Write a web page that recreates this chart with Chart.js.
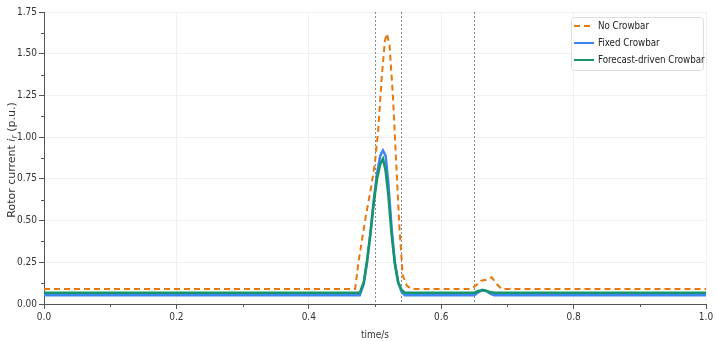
<!DOCTYPE html>
<html lang="en">
<head>
  <meta charset="UTF-8" />
  <title>Rotor current</title>
  <script src="https://cdn.jsdelivr.net/npm/chart.js"></script>
  <style>
    html, body { margin: 0; padding: 0; background: #fff; }
    #wrap { width: 716px; height: 341px; }
  </style>
</head>
<body>
  <div id="wrap"><canvas id="rotorChart"></canvas></div>

  <script>
    // series labels
    const seriesNames = ["No Crowbar", "Fixed Crowbar", "Forecast-driven Crowbar"];

    // No Crowbar (dashed)
    const timeNo = [0, 0.470, 0.475, 0.485, 0.495, 0.500, 0.505, 0.510, 0.515, 0.518, 0.522, 0.527, 0.532, 0.537, 0.542, 0.548, 0.555,
                    0.645, 0.652, 0.660, 0.668, 0.676, 0.684, 0.691, 1.0];
    const valNo = [0.09, 0.09, 0.25, 0.50, 0.72, 0.85, 1.05, 1.35, 1.58, 1.62, 1.55, 1.25, 0.85, 0.45, 0.17, 0.11, 0.09,
                   0.09, 0.11, 0.14, 0.145, 0.16, 0.12, 0.09, 0.09];

    // Fixed Crowbar
    const timeFixed = [0, 0.477, 0.483, 0.488, 0.493, 0.498, 0.503, 0.508, 0.512, 0.516, 0.520, 0.525, 0.530, 0.535, 0.540, 0.545,
                       0.650, 0.656, 0.662, 0.668, 0.674, 0.680, 1.0];
    const valFixed = [0.052, 0.052, 0.12, 0.25, 0.42, 0.62, 0.78, 0.89, 0.92, 0.89, 0.73, 0.46, 0.25, 0.13, 0.075, 0.052,
                      0.052, 0.07, 0.085, 0.08, 0.062, 0.052, 0.052];

    // Forecast-driven Crowbar
    const timeForecast = [0, 0.477, 0.483, 0.488, 0.493, 0.498, 0.503, 0.508, 0.512, 0.516, 0.520, 0.525, 0.530, 0.535, 0.540, 0.545,
                          0.650, 0.656, 0.662, 0.668, 0.674, 0.680, 1.0];
    const valForecast = [0.068, 0.068, 0.13, 0.26, 0.42, 0.60, 0.75, 0.84, 0.87, 0.80, 0.66, 0.42, 0.24, 0.13, 0.085, 0.068,
                         0.068, 0.078, 0.082, 0.078, 0.072, 0.068, 0.068];

    // event markers (vertical dotted lines)
    const eventTimes = [0.5, 0.54, 0.65];

    const FONT = "DejaVu Sans Condensed";
    const toPoints = (xs, ys) => xs.map((x, i) => ({ x: x, y: ys[i] }));

    // minor ticks, event lines, y title, legend
    const extras = {
      id: "extras",
      beforeDatasetsDraw(chart) {
        const { ctx, chartArea, scales } = chart;
        ctx.save();
        ctx.strokeStyle = "#888";
        ctx.lineWidth = 1;
        ctx.setLineDash([2, 2]);
        eventTimes.forEach(t => {
          const px = Math.round(scales.x.getPixelForValue(t)) + 0.5;
          ctx.beginPath();
          ctx.moveTo(px, chartArea.top);
          ctx.lineTo(px, chartArea.bottom);
          ctx.stroke();
        });
        ctx.restore();
      },
      afterDraw(chart) {
        const { ctx, chartArea, scales } = chart;
        ctx.save();
        ctx.strokeStyle = "#555";
        ctx.lineWidth = 1;
        for (let v = 0.1; v < 1; v += 0.2) {
          const px = Math.round(scales.x.getPixelForValue(v)) + 0.5;
          ctx.beginPath();
          ctx.moveTo(px, chartArea.bottom);
          ctx.lineTo(px, chartArea.bottom + 3);
          ctx.stroke();
        }
        for (let v = 0.125; v < 1.75; v += 0.25) {
          const py = Math.round(scales.y.getPixelForValue(v)) + 0.5;
          ctx.beginPath();
          ctx.moveTo(chartArea.left, py);
          ctx.lineTo(chartArea.left - 3, py);
          ctx.stroke();
        }

        // y axis title with italic i and subscript r
        const parts = [
          { t: "Rotor current ", f: "11px 'DejaVu Sans'", dy: 0 },
          { t: "i", f: "italic 11px 'DejaVu Sans'", dy: 0 },
          { t: "r", f: "italic 8px 'DejaVu Sans'", dy: 2.5 },
          { t: " (p.u.)", f: "11px 'DejaVu Sans'", dy: 0 }
        ];
        let total = 0;
        parts.forEach(p => { ctx.font = p.f; p.w = ctx.measureText(p.t).width; total += p.w; });
        ctx.translate(12, (chartArea.top + chartArea.bottom) / 2 + 2);
        ctx.rotate(-Math.PI / 2);
        ctx.fillStyle = "#333";
        ctx.textBaseline = "middle";
        let xx = -total / 2;
        parts.forEach(p => {
          ctx.font = p.f;
          ctx.fillText(p.t, xx, p.dy);
          xx += p.w;
        });
        ctx.setTransform(1, 0, 0, 1, 0, 0);

        // legend box
        const x0 = 571, y0 = 17, w = 132, h = 53;
        ctx.fillStyle = "rgba(255,255,255,0.9)";
        ctx.strokeStyle = "#ddd";
        ctx.lineWidth = 1;
        ctx.beginPath();
        ctx.roundRect(x0 + 0.5, y0 + 0.5, w, h, 3);
        ctx.fill();
        ctx.stroke();
        ctx.font = "9.7px '" + FONT + "'";
        ctx.textBaseline = "middle";
        chart.data.datasets.forEach((ds, i) => {
          const yy = y0 + 9 + i * 17;
          ctx.strokeStyle = ds.borderColor;
          ctx.lineWidth = 2;
          ctx.setLineDash(ds.borderDash || []);
          ctx.beginPath();
          ctx.moveTo(x0 + 3, yy);
          ctx.lineTo(x0 + 23, yy);
          ctx.stroke();
          ctx.setLineDash([]);
          ctx.fillStyle = "#222";
          ctx.fillText(ds.label, x0 + 27, yy);
        });
        ctx.restore();
      }
    };

    new Chart(document.getElementById("rotorChart"), {
      type: "line",
      data: {
        datasets: [
          {
            label: seriesNames[0],
            data: toPoints(timeNo, valNo),
            borderColor: "#e8770e",
            borderWidth: 2,
            borderDash: [6, 4],
            pointRadius: 0,
            tension: 0,
            order: 0
          },
          {
            label: seriesNames[1],
            data: toPoints(timeFixed, valFixed),
            borderColor: "#3d85f0",
            borderWidth: 2.5,
            pointRadius: 0,
            tension: 0,
            order: 2
          },
          {
            label: seriesNames[2],
            data: toPoints(timeForecast, valForecast),
            borderColor: "#14956a",
            borderWidth: 2.5,
            pointRadius: 0,
            tension: 0,
            order: 1
          }
        ]
      },
      options: {
        responsive: true,
        maintainAspectRatio: false,
        animation: false,
        layout: { padding: { top: 12, right: 10, left: 0, bottom: 0 } },
        plugins: {
          legend: { display: false },
          tooltip: { enabled: false }
        },
        scales: {
          x: {
            type: "linear",
            min: 0,
            max: 1,
            ticks: {
              stepSize: 0.2,
              color: "#333",
              font: { family: FONT, size: 10 },
              padding: 2,
              callback: v => v.toFixed(1)
            },
            grid: { color: "#f0f0f0", tickColor: "#555", tickLength: 5 },
            border: { color: "#555" },
            title: {
              display: true,
              text: "time/s",
              color: "#333",
              font: { family: FONT, size: 10 },
              padding: { top: 2, bottom: 0 }
            },
            afterFit: s => { s.height = 37; }
          },
          y: {
            min: 0,
            max: 1.75,
            ticks: {
              stepSize: 0.25,
              color: "#333",
              font: { family: FONT, size: 10 },
              padding: 2,
              callback: v => v.toFixed(2)
            },
            grid: { color: "#f0f0f0", tickColor: "#555", tickLength: 5 },
            border: { color: "#555" },
            afterFit: s => { s.width = 44; }
          }
        }
      },
      plugins: [extras]
    });
  </script>
</body>
</html>
